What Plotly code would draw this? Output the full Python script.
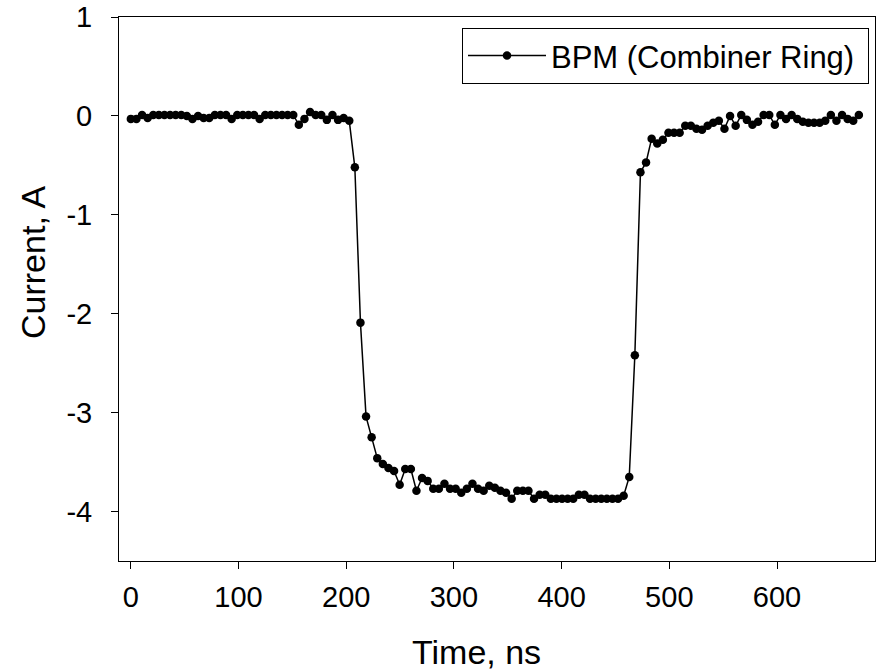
import plotly.graph_objects as go

time_ns = [
    0, 5.2, 10.4, 15.6, 20.8, 26.0, 31.2, 36.4, 41.6, 46.8,
    52.0, 57.2, 62.4, 67.6, 72.8, 78.0, 83.2, 88.4, 93.6, 98.8,
    104.0, 109.2, 114.4, 119.6, 124.8, 130.0, 135.2, 140.4, 145.6, 150.8,
    156.0, 161.2, 166.4, 171.6, 176.8, 182.0, 187.2, 192.4, 197.6, 202.8,
    208.0, 213.2, 218.4, 223.6, 228.8, 234.0, 239.2, 244.4, 249.6, 254.8,
    260.0, 265.2, 270.4, 275.6, 280.8, 286.0, 291.2, 296.4, 301.6, 306.8,
    312.0, 317.2, 322.4, 327.6, 332.8, 338.0, 343.2, 348.4, 353.6, 358.8,
    364.0, 369.2, 374.4, 379.6, 384.8, 390.0, 395.2, 400.4, 405.6, 410.8,
    416.0, 421.2, 426.4, 431.6, 436.8, 442.0, 447.2, 452.4, 457.6, 462.8,
    468.0, 473.2, 478.4, 483.6, 488.8, 494.0, 499.2, 504.4, 509.6, 514.8,
    520.0, 525.2, 530.4, 535.6, 540.8, 546.0, 551.2, 556.4, 561.6, 566.8,
    572.0, 577.2, 582.4, 587.6, 592.8, 598.0, 603.2, 608.4, 613.6, 618.8,
    624.0, 629.2, 634.4, 639.6, 644.8, 650.0, 655.2, 660.4, 665.6, 670.8,
    676.0,
]

current_a = [
    -0.03, -0.03, 0.01, -0.02, 0.01, 0.01, 0.01, 0.01, 0.01, 0.01,
    0.0, -0.03, 0.0, -0.02, -0.02, 0.01, 0.01, 0.01, -0.03, 0.01,
    0.01, 0.01, 0.01, -0.03, 0.01, 0.01, 0.01, 0.01, 0.01, 0.01,
    -0.09, -0.03, 0.04, 0.01, 0.01, -0.04, 0.01, -0.04, -0.02, -0.05,
    -0.52, -2.09, -3.04, -3.25, -3.46, -3.52, -3.56, -3.59, -3.73, -3.57,
    -3.57, -3.79, -3.66, -3.69, -3.77, -3.77, -3.72, -3.77, -3.77, -3.81,
    -3.77, -3.72, -3.77, -3.79, -3.74, -3.76, -3.79, -3.81, -3.87, -3.79,
    -3.79, -3.79, -3.87, -3.83, -3.83, -3.87, -3.87, -3.87, -3.87, -3.87,
    -3.83, -3.83, -3.87, -3.87, -3.87, -3.87, -3.87, -3.87, -3.84, -3.65,
    -2.42, -0.57, -0.47, -0.23, -0.28, -0.24, -0.17, -0.17, -0.17, -0.10,
    -0.10, -0.13, -0.14, -0.10, -0.07, -0.05, -0.13, 0.0, -0.10, 0.01,
    -0.04, -0.09, -0.06, 0.01, 0.01, -0.09, 0.01, -0.03, 0.01, -0.03,
    -0.06, -0.07, -0.07, -0.07, -0.05, 0.01, -0.05, 0.01, -0.03, -0.05,
    0.01,
]

x_tick_values = [0, 100, 200, 300, 400, 500, 600]
x_tick_labels = ["0", "100", "200", "300", "400", "500", "600"]
y_tick_values = [1, 0, -1, -2, -3, -4]
y_tick_labels = ["1", "0", "-1", "-2", "-3", "-4"]

series_name = "BPM (Combiner Ring)"
x_title = "Time, ns"
y_title = "Current, A"

FONT = "Liberation Sans, Arial, Helvetica, sans-serif"

fig = go.Figure()
fig.add_trace(go.Scatter(
    x=time_ns, y=current_a, mode="lines+markers",
    name=series_name + "\u00a0",
    line=dict(color="black", width=1.5),
    marker=dict(color="black", size=8.5, symbol="circle"),
    showlegend=True,
))

fig.update_layout(
    width=879, height=672,
    margin=dict(l=119, r=4, t=17, b=111, autoexpand=False),
    paper_bgcolor="white", plot_bgcolor="white",
    font=dict(family=FONT, size=29, color="black"),
    showlegend=True,
    legend=dict(
        x=0.4537, y=0.98, xanchor="left", yanchor="top",
        bordercolor="black", borderwidth=1, bgcolor="white",
        font=dict(family=FONT, size=31, color="black"),
        itemwidth=78,
    ),
    xaxis=dict(
        range=[-11, 691], showgrid=False, zeroline=False,
        showline=True, linecolor="black", linewidth=1, mirror=True,
        ticks="outside", ticklen=7, tickwidth=1, tickcolor="black",
        tickvals=x_tick_values, ticktext=x_tick_labels,
        tickfont=dict(family=FONT, size=29, color="black"),
        ticklabelstandoff=3,
        automargin=False,
    ),
    yaxis=dict(
        range=[-4.5, 1], showgrid=False, zeroline=False,
        showline=True, linecolor="black", linewidth=1, mirror=True,
        ticks="outside", ticklen=7, tickwidth=1, tickcolor="black",
        tickvals=y_tick_values, ticktext=y_tick_labels,
        tickfont=dict(family=FONT, size=29, color="black"),
        ticklabelstandoff=13,
        automargin=False,
    ),
    annotations=[
        dict(text=x_title, xref="paper", yref="paper", x=0.4735, y=-0.1675,
             xanchor="center", yanchor="middle", showarrow=False,
             font=dict(family=FONT, size=34, color="black")),
        dict(text=y_title, xref="paper", yref="paper", x=-0.1138, y=0.5496,
             xanchor="center", yanchor="middle", showarrow=False, textangle=-90,
             font=dict(family=FONT, size=34, color="black")),
    ],
)

fig.write_html(
    "out.html",
    config={"displayModeBar": False},
    post_script="document.body.style.margin='0';document.body.style.padding='0';",
)
